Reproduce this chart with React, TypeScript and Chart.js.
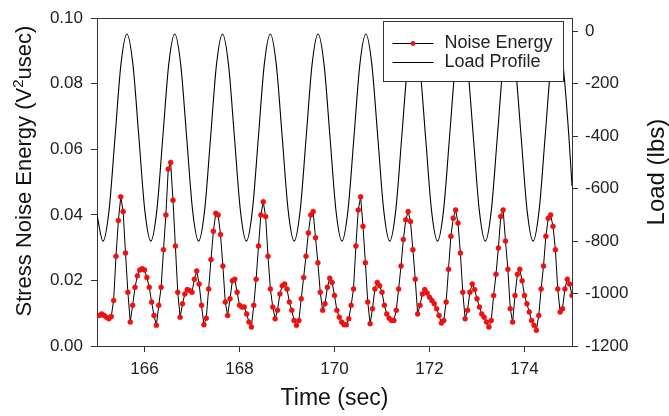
import React, { useEffect, useRef } from 'react';
import { Chart, registerables } from 'chart.js';

Chart.register(...registerables);

// ---------- data ----------
const noiseStart = 165; // sec, first sample
const noiseStep = 0.05; // sec, sampling interval
const noiseEnergy = [
  0.0093, 0.0093, 0.0098, 0.0093, 0.0088, 0.0083, 0.0090, 0.0139, 0.0274, 0.0383,
  0.0455, 0.0410, 0.0284, 0.0164, 0.0073, 0.0124, 0.0179, 0.0214, 0.0232, 0.0236,
  0.0232, 0.0209, 0.0179, 0.0134, 0.0093, 0.0063, 0.0124, 0.0179, 0.0294, 0.0400,
  0.0540, 0.0560, 0.0445, 0.0305, 0.0164, 0.0088, 0.0129, 0.0159, 0.0172, 0.0169,
  0.0164, 0.0204, 0.0229, 0.0189, 0.0124, 0.0065, 0.0085, 0.0174, 0.0264, 0.0350,
  0.0405, 0.0400, 0.0340, 0.0244, 0.0134, 0.0093, 0.0144, 0.0199, 0.0204, 0.0164,
  0.0124, 0.0119, 0.0119, 0.0098, 0.0073, 0.0058, 0.0124, 0.0204, 0.0305, 0.0400,
  0.0440, 0.0395, 0.0274, 0.0174, 0.0119, 0.0083, 0.0109, 0.0159, 0.0184, 0.0189,
  0.0174, 0.0134, 0.0109, 0.0078, 0.0063, 0.0078, 0.0144, 0.0209, 0.0274, 0.0345,
  0.0400, 0.0410, 0.0330, 0.0254, 0.0164, 0.0109, 0.0129, 0.0179, 0.0207, 0.0194,
  0.0154, 0.0109, 0.0088, 0.0073, 0.0065, 0.0065, 0.0083, 0.0124, 0.0174, 0.0305,
  0.0415, 0.0455, 0.0365, 0.0254, 0.0134, 0.0068, 0.0114, 0.0174, 0.0194, 0.0184,
  0.0164, 0.0124, 0.0098, 0.0085, 0.0078, 0.0078, 0.0109, 0.0174, 0.0244, 0.0325,
  0.0385, 0.0410, 0.0380, 0.0294, 0.0204, 0.0098, 0.0124, 0.0159, 0.0172, 0.0162,
  0.0149, 0.0139, 0.0129, 0.0114, 0.0093, 0.0070, 0.0078, 0.0134, 0.0234, 0.0335,
  0.0390, 0.0415, 0.0375, 0.0284, 0.0164, 0.0083, 0.0109, 0.0164, 0.0189, 0.0172,
  0.0144, 0.0119, 0.0098, 0.0088, 0.0073, 0.0058, 0.0078, 0.0154, 0.0219, 0.0299,
  0.0395, 0.0415, 0.0320, 0.0234, 0.0114, 0.0073, 0.0154, 0.0219, 0.0234, 0.0199,
  0.0154, 0.0129, 0.0104, 0.0078, 0.0063, 0.0048, 0.0093, 0.0174, 0.0244, 0.0335,
  0.0390, 0.0400, 0.0365, 0.0294, 0.0174, 0.0104, 0.0114, 0.0174, 0.0204, 0.0189,
  0.0154,
];

const loadTime = [
  165.0,
  165.127, 165.253, 165.379, 165.504, 165.630, 165.756, 165.882, 166.007,
  166.133, 166.259, 166.385, 166.510, 166.636, 166.762, 166.888, 167.013,
  167.139, 167.265, 167.391, 167.516, 167.642, 167.768, 167.894, 168.019,
  168.145, 168.271, 168.397, 168.522, 168.648, 168.774, 168.900, 169.025,
  169.151, 169.277, 169.403, 169.528, 169.654, 169.780, 169.906, 170.031,
  170.157, 170.283, 170.409, 170.534, 170.660, 170.786, 170.912, 171.037,
  171.163, 171.289, 171.415, 171.540, 171.666, 171.792, 171.918, 172.043,
  172.169, 172.295, 172.421, 172.546, 172.672, 172.798, 172.924, 173.049,
  173.175, 173.301, 173.427, 173.552, 173.678, 173.804, 173.930, 174.055,
  174.181, 174.307, 174.433, 174.558, 174.684, 174.810, 174.936, 175.0,
];
const loadValues = [
  -700,
  -800, -684, -405, -126, -10, -126, -405, -684,
  -800, -684, -405, -126, -10, -126, -405, -684,
  -800, -684, -405, -126, -10, -126, -405, -684,
  -800, -684, -405, -126, -10, -126, -405, -684,
  -800, -684, -405, -126, -10, -126, -405, -684,
  -800, -684, -405, -126, -10, -126, -405, -684,
  -800, -684, -405, -126, -10, -126, -405, -684,
  -800, -684, -405, -126, -10, -126, -405, -684,
  -800, -684, -405, -126, -10, -126, -405, -684,
  -800, -684, -405, -126, -10, -126, -405, -590,
];

const xTicks = [166, 168, 170, 172, 174];
const leftTicks = [0, 0.02, 0.04, 0.06, 0.08, 0.1];
const rightTicks = [-1200, -1000, -800, -600, -400, -200, 0];

const seriesLabels = ['Noise Energy', 'Load Profile'];
const xTitle = 'Time (sec)';
// left title split around the superscript "2"
const yTitleParts = ['Stress Noise Energy (V', '2', 'usec)'];
const y1Title = 'Load (lbs)';

// ---------- styling ----------
const FONT = '"Liberation Sans", Arial, Helvetica, sans-serif';
const RED = '#ee1111';
const AXIS = '#333333';
const TEXT = '#222222';
const TITLE = '#111111';

const frameLegendTitles = {
  id: 'frameLegendTitles',
  afterDraw(chart: any) {
    const ctx = chart.ctx as CanvasRenderingContext2D;
    const { left, top, right, bottom } = chart.chartArea;
    ctx.save();
    // top frame line
    ctx.strokeStyle = AXIS;
    ctx.lineWidth = 1;
    ctx.beginPath();
    ctx.moveTo(left, Math.round(top) + 0.5);
    ctx.lineTo(right + 1, Math.round(top) + 0.5);
    ctx.stroke();

    // legend box
    const bx = Math.round(right - 189) + 0.5;
    const by = Math.round(top + 3) + 0.5;
    const bw = 180;
    const bh = 60;
    ctx.fillStyle = '#ffffff';
    ctx.fillRect(bx, by, bw, bh);
    ctx.strokeStyle = AXIS;
    ctx.strokeRect(bx, by, bw, bh);

    const rows = [by + 21, by + 40];
    const ds = chart.data.datasets;
    ctx.font = `18px ${FONT}`;
    ctx.textBaseline = 'middle';
    ctx.textAlign = 'left';
    rows.forEach((ry: number, i: number) => {
      ctx.strokeStyle = '#000';
      ctx.lineWidth = 1;
      ctx.beginPath();
      ctx.moveTo(bx + 9, Math.round(ry) + 0.5);
      ctx.lineTo(bx + 50, Math.round(ry) + 0.5);
      ctx.stroke();
      if (i === 0) {
        ctx.fillStyle = RED;
        ctx.beginPath();
        ctx.arc(bx + 29.5, Math.round(ry) + 0.5, 2.4, 0, Math.PI * 2);
        ctx.fill();
      }
      ctx.fillStyle = TEXT;
      ctx.fillText(ds[i].label, bx + 61, ry + 1);
    });

    // left axis title (rotated, reads bottom-to-top, with superscript)
    const midY = (top + bottom) / 2 - 11;
    ctx.save();
    ctx.translate(24, midY);
    ctx.rotate(-Math.PI / 2);
    ctx.fillStyle = TITLE;
    ctx.textBaseline = 'middle';
    ctx.textAlign = 'left';
    const mainFont = `22px ${FONT}`;
    const supFont = `15px ${FONT}`;
    ctx.font = mainFont;
    const w0 = ctx.measureText(yTitleParts[0]).width;
    const w2 = ctx.measureText(yTitleParts[2]).width;
    ctx.font = supFont;
    const w1 = ctx.measureText(yTitleParts[1]).width;
    let x = -(w0 + w1 + w2) / 2;
    ctx.font = mainFont;
    ctx.fillText(yTitleParts[0], x, 1);
    x += w0;
    ctx.font = supFont;
    ctx.fillText(yTitleParts[1], x, -5);
    x += w1;
    ctx.font = mainFont;
    ctx.fillText(yTitleParts[2], x, 1);
    ctx.restore();

    // right axis title (rotated, reads bottom-to-top)
    ctx.save();
    ctx.translate(656, (top + bottom) / 2 - 10);
    ctx.rotate(-Math.PI / 2);
    ctx.fillStyle = TITLE;
    ctx.font = `24px ${FONT}`;
    ctx.textBaseline = 'middle';
    ctx.textAlign = 'center';
    ctx.fillText(y1Title, 0, 1);
    ctx.restore();

    ctx.restore();
  },
};

export default function App() {
  const ref = useRef<HTMLCanvasElement>(null);

  useEffect(() => {
    const canvas = ref.current;
    if (!canvas) return;
    const noisePoints = noiseEnergy.map((v, i) => ({ x: noiseStart + i * noiseStep, y: v }));
    const loadPoints = loadValues.map((v, i) => ({ x: loadTime[i], y: v }));

    const tickFont = { family: FONT, size: 17 };

    const chart = new Chart(canvas, {
      type: 'line',
      data: {
        datasets: [
          {
            label: seriesLabels[0],
            data: noisePoints,
            yAxisID: 'y',
            borderColor: '#000000',
            borderWidth: 1,
            pointRadius: 2.5,
            pointBackgroundColor: RED,
            pointBorderColor: RED,
            pointBorderWidth: 0.5,
            tension: 0,
          },
          {
            label: seriesLabels[1],
            data: loadPoints,
            yAxisID: 'y1',
            borderColor: '#000000',
            borderWidth: 1.1,
            pointRadius: 0,
            cubicInterpolationMode: 'monotone',
          },
        ],
      },
      options: {
        animation: false,
        responsive: false,
        events: [],
        layout: { padding: { top: 15, left: 0, right: 0, bottom: 0 } },
        plugins: {
          legend: { display: false },
          tooltip: { enabled: false },
        },
        scales: {
          x: {
            type: 'linear',
            position: 'bottom',
            min: 165,
            max: 175,
            afterBuildTicks: (s: any) => {
              s.ticks = xTicks.map((v) => ({ value: v }));
            },
            afterFit: (s: any) => {
              s.height = 70;
            },
            grid: { drawOnChartArea: false, drawTicks: true, tickLength: 6, color: AXIS },
            border: { display: true, color: AXIS, width: 1 },
            ticks: {
              font: tickFont,
              color: TEXT,
              padding: 7,
              maxRotation: 0,
              autoSkip: false,
              callback: (v: any) => String(v),
            },
            title: {
              display: true,
              text: xTitle,
              font: { family: FONT, size: 23 },
              color: TITLE,
              padding: { top: 0, bottom: 4 },
            },
          },
          y: {
            type: 'linear',
            position: 'left',
            min: 0,
            max: 0.1,
            afterBuildTicks: (s: any) => {
              s.ticks = leftTicks.map((v) => ({ value: v }));
            },
            afterFit: (s: any) => {
              s.width = 97;
            },
            grid: { drawOnChartArea: false, drawTicks: true, tickLength: 6, color: AXIS },
            border: { display: true, color: AXIS, width: 1 },
            ticks: {
              font: tickFont,
              color: TEXT,
              padding: 8,
              autoSkip: false,
              callback: (v: any) => Number(v).toFixed(2),
            },
          },
          y1: {
            type: 'linear',
            position: 'right',
            min: -1200,
            max: 50,
            afterBuildTicks: (s: any) => {
              s.ticks = rightTicks.map((v) => ({ value: v }));
            },
            afterFit: (s: any) => {
              s.width = 97;
            },
            grid: { drawOnChartArea: false, drawTicks: true, tickLength: 6, color: AXIS },
            border: { display: true, color: AXIS, width: 1 },
            ticks: {
              font: tickFont,
              color: TEXT,
              padding: 7,
              autoSkip: false,
              callback: (v: any) => String(v),
            },
          },
        },
      },
      plugins: [frameLegendTitles],
    } as any);

    return () => chart.destroy();
  }, []);

  return (
    <div style={{ position: 'absolute', left: 0, top: 0, width: 669, height: 416, background: '#ffffff' }}>
      <canvas ref={ref} width={669} height={416} style={{ display: 'block', width: 669, height: 416 }} />
    </div>
  );
}
